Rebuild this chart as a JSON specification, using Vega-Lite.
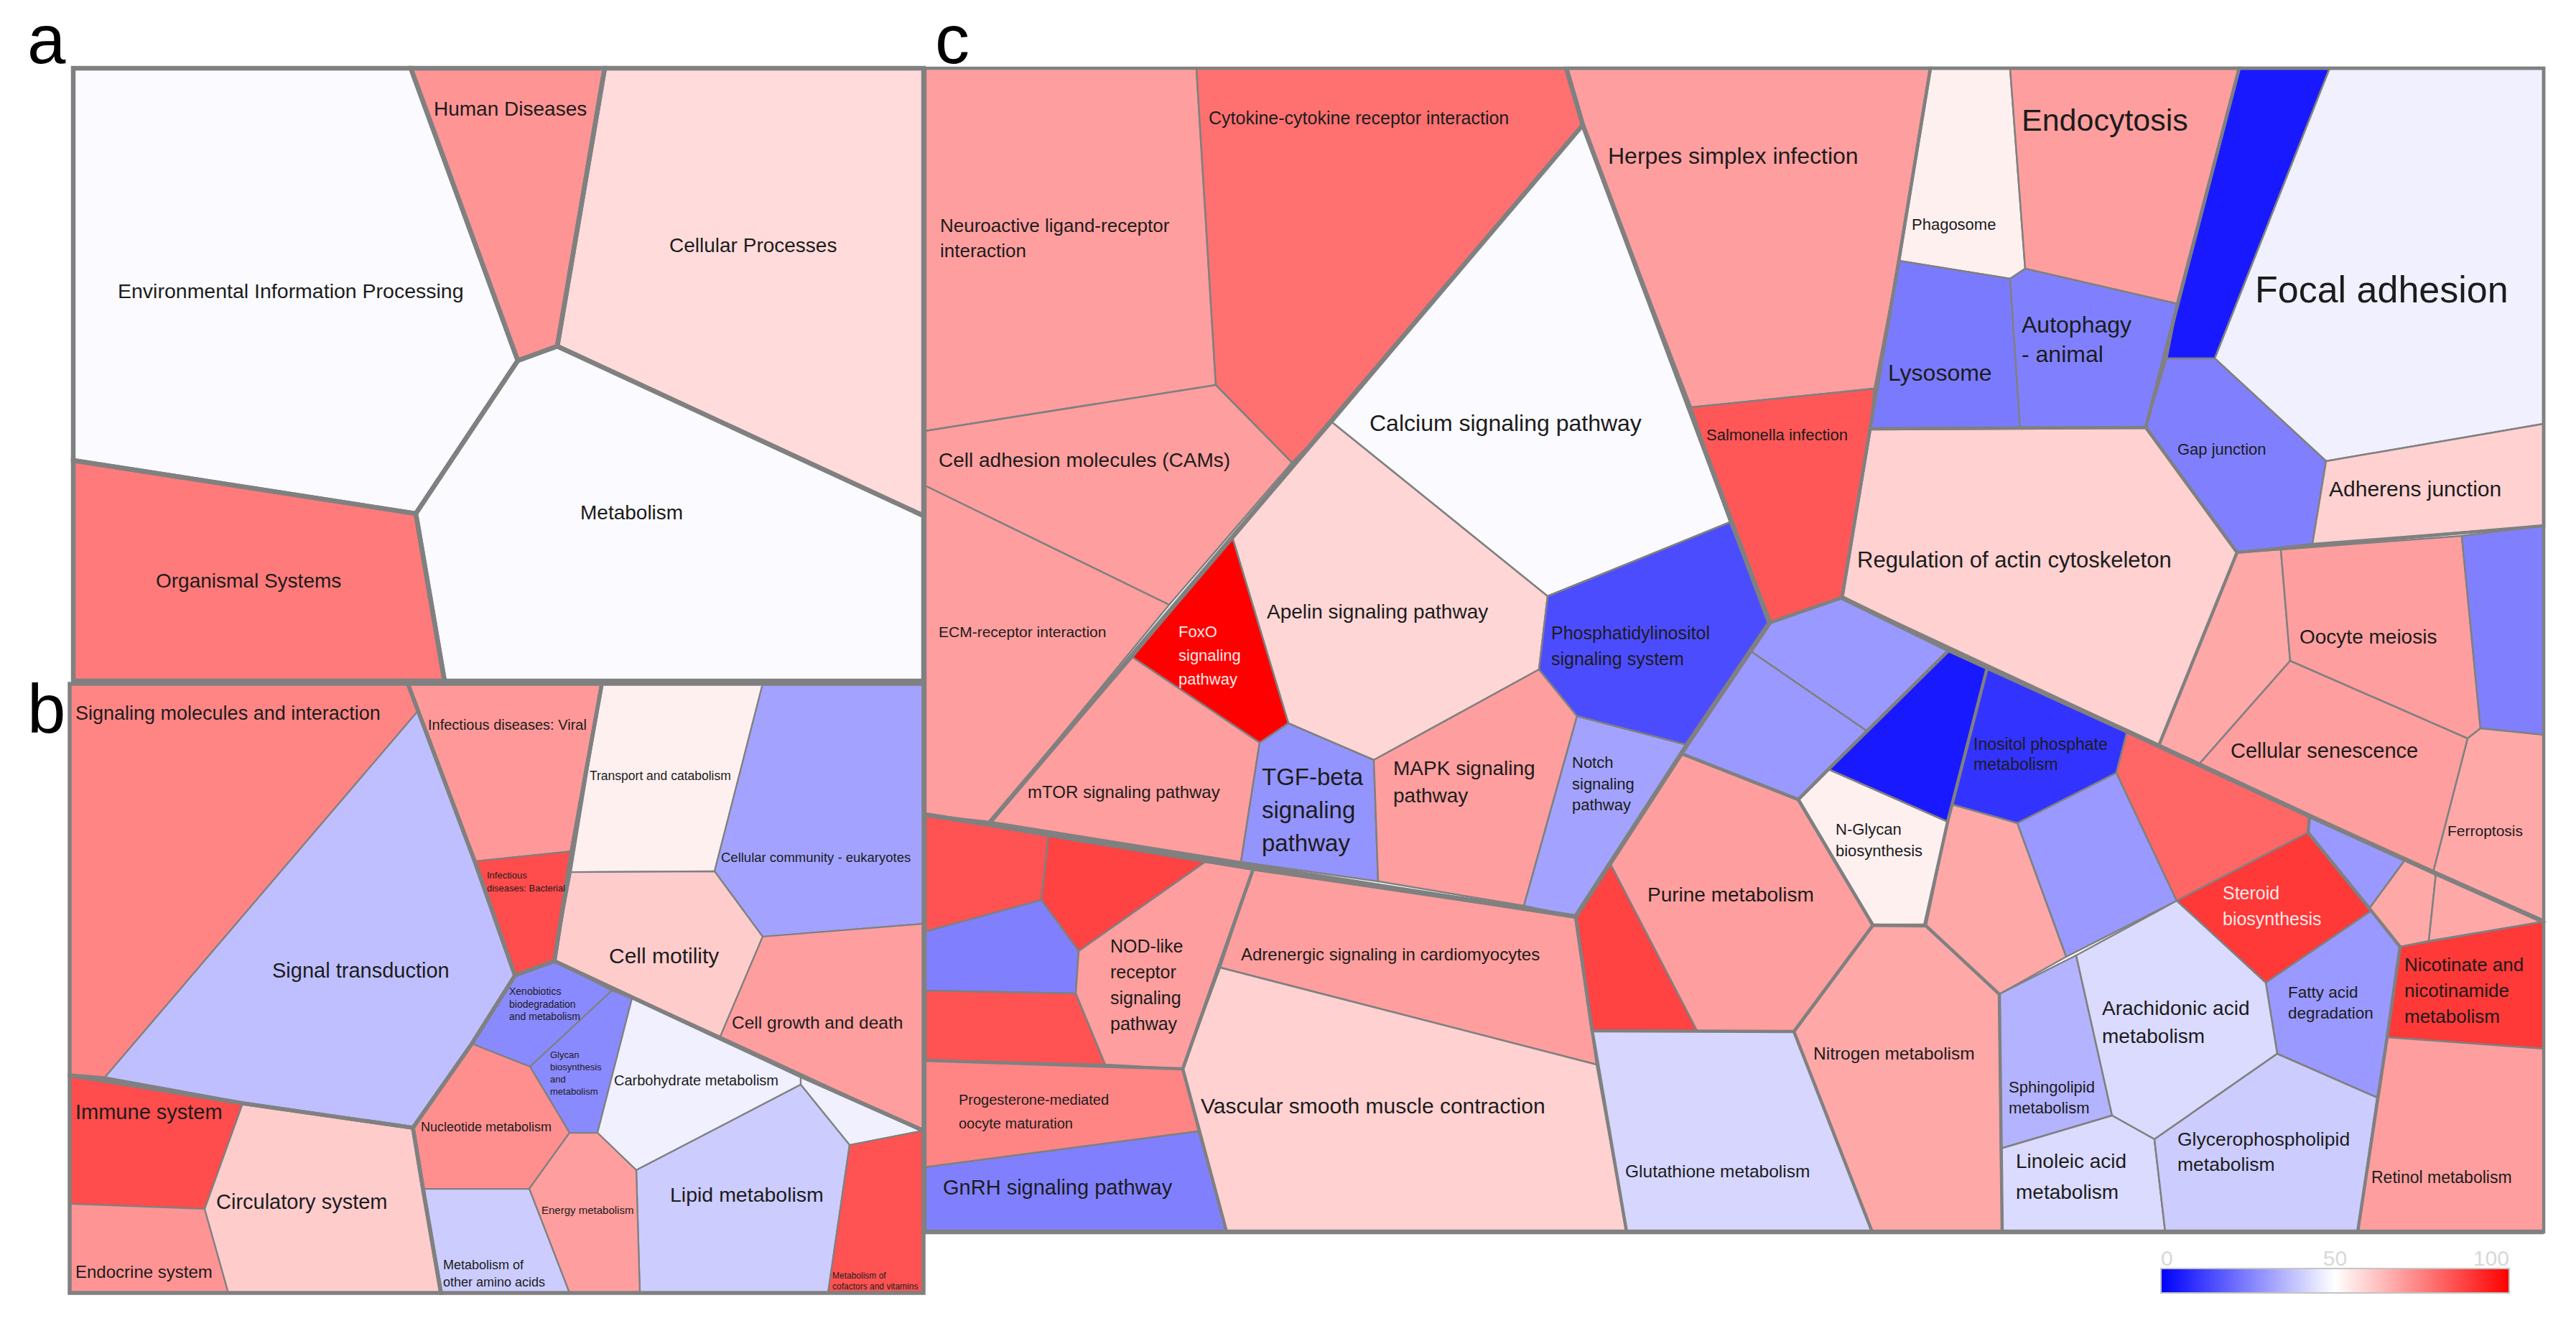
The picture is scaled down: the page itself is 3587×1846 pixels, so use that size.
{"$schema":"https://vega.github.io/schema/vega-lite/v6.json","width":3587,"height":1846,"padding":0,"autosize":"none","background":"white","view":{"stroke":null},"projection":{"type":"identity","scale":1,"translate":[0,0]},
"resolve":{"scale":{"strokeWidth":"independent"}},
"datasets":{
"cells":[
{"type":"Feature","name":"Environmental Information Processing","panel":"a","value":49,"geometry":{"type":"Polygon","coordinates":[[[102,95],[572,95],[721,502],[579,715],[102,641],[102,95]]]}},
{"type":"Feature","name":"Human Diseases","panel":"a","value":71,"geometry":{"type":"Polygon","coordinates":[[[572,95],[842,95],[776,482],[721,502],[572,95]]]}},
{"type":"Feature","name":"Cellular Processes","panel":"a","value":57,"geometry":{"type":"Polygon","coordinates":[[[842,95],[1286,95],[1286,718],[776,482],[842,95]]]}},
{"type":"Feature","name":"Metabolism","panel":"a","value":49,"geometry":{"type":"Polygon","coordinates":[[[721,502],[776,482],[1286,718],[1286,948],[619,948],[579,715],[721,502]]]}},
{"type":"Feature","name":"Organismal Systems","panel":"a","value":76,"geometry":{"type":"Polygon","coordinates":[[[102,641],[579,715],[619,948],[102,948],[102,641]]]}},
{"type":"Feature","name":"Signaling molecules and interaction","panel":"b","value":74,"geometry":{"type":"Polygon","coordinates":[[[97,952],[568,952],[581,991],[145,1501],[97,1497],[97,952]]]}},
{"type":"Feature","name":"Signal transduction","panel":"b","value":37.5,"geometry":{"type":"Polygon","coordinates":[[[581,991],[661,1199],[717,1358],[657,1453],[575,1570],[338,1536],[145,1501],[581,991]]]}},
{"type":"Feature","name":"Infectious diseases: Viral","panel":"b","value":70,"geometry":{"type":"Polygon","coordinates":[[[568,952],[838,952],[796,1185],[661,1199],[568,952]]]}},
{"type":"Feature","name":"Infectious diseases: Bacterial","panel":"b","value":85,"geometry":{"type":"Polygon","coordinates":[[[661,1199],[796,1185],[772,1338],[717,1358],[661,1199]]]}},
{"type":"Feature","name":"Transport and catabolism","panel":"b","value":53,"geometry":{"type":"Polygon","coordinates":[[[838,952],[1062,952],[995,1213],[795,1214],[838,952]]]}},
{"type":"Feature","name":"Cellular community - eukaryotes","panel":"b","value":32,"geometry":{"type":"Polygon","coordinates":[[[1062,952],[1286,952],[1286,1286],[1062,1304],[995,1213],[1062,952]]]}},
{"type":"Feature","name":"Cell motility","panel":"b","value":60,"geometry":{"type":"Polygon","coordinates":[[[795,1214],[995,1213],[1062,1304],[1003,1443],[772,1338],[795,1214]]]}},
{"type":"Feature","name":"Cell growth and death","panel":"b","value":69,"geometry":{"type":"Polygon","coordinates":[[[1062,1304],[1286,1286],[1286,1574],[1003,1443],[1062,1304]]]}},
{"type":"Feature","name":"Xenobiotics biodegradation and metabolism","panel":"b","value":27,"geometry":{"type":"Polygon","coordinates":[[[717,1358],[772,1338],[852,1379],[738,1485],[657,1453],[717,1358]]]}},
{"type":"Feature","name":"Glycan biosynthesis and metabolism","panel":"b","value":27,"geometry":{"type":"Polygon","coordinates":[[[852,1379],[880,1390],[832,1577],[793,1577],[738,1485],[852,1379]]]}},
{"type":"Feature","name":"Carbohydrate metabolism","panel":"b","value":47,"geometry":{"type":"Polygon","coordinates":[[[880,1390],[1115,1498],[1115,1510],[886,1629],[832,1577],[880,1390]]]}},
{"type":"Feature","name":"Unlabelled metabolism b","panel":"b","value":47,"geometry":{"type":"Polygon","coordinates":[[[1115,1498],[1286,1574],[1183,1594],[1115,1510],[1115,1498]]]}},
{"type":"Feature","name":"Lipid metabolism","panel":"b","value":40,"geometry":{"type":"Polygon","coordinates":[[[1115,1510],[1183,1594],[1153,1800],[891,1800],[886,1629],[1115,1510]]]}},
{"type":"Feature","name":"Metabolism of cofactors and vitamins","panel":"b","value":84,"geometry":{"type":"Polygon","coordinates":[[[1183,1594],[1286,1574],[1286,1800],[1153,1800],[1183,1594]]]}},
{"type":"Feature","name":"Nucleotide metabolism","panel":"b","value":72,"geometry":{"type":"Polygon","coordinates":[[[657,1453],[738,1485],[793,1577],[737,1655],[589,1655],[575,1570],[657,1453]]]}},
{"type":"Feature","name":"Energy metabolism","panel":"b","value":69,"geometry":{"type":"Polygon","coordinates":[[[793,1577],[832,1577],[886,1629],[891,1800],[793,1800],[737,1655],[793,1577]]]}},
{"type":"Feature","name":"Metabolism of other amino acids","panel":"b","value":40,"geometry":{"type":"Polygon","coordinates":[[[589,1655],[737,1655],[793,1800],[614,1800],[589,1655]]]}},
{"type":"Feature","name":"Immune system","panel":"b","value":85,"geometry":{"type":"Polygon","coordinates":[[[97,1497],[338,1536],[285,1683],[97,1676],[97,1497]]]}},
{"type":"Feature","name":"Endocrine system","panel":"b","value":71,"geometry":{"type":"Polygon","coordinates":[[[97,1676],[285,1683],[318,1800],[97,1800],[97,1676]]]}},
{"type":"Feature","name":"Circulatory system","panel":"b","value":60,"geometry":{"type":"Polygon","coordinates":[[[338,1536],[575,1570],[589,1655],[614,1800],[318,1800],[285,1683],[338,1536]]]}},
{"type":"Feature","name":"Neuroactive ligand-receptor interaction","panel":"c","value":69,"geometry":{"type":"Polygon","coordinates":[[[1288,95],[1666,95],[1693,536],[1288,600],[1288,95]]]}},
{"type":"Feature","name":"Cytokine-cytokine receptor interaction","panel":"c","value":78,"geometry":{"type":"Polygon","coordinates":[[[1666,95],[2181,95],[2204,174],[1855,588],[1799,644],[1693,536],[1666,95]]]}},
{"type":"Feature","name":"Cell adhesion molecules (CAMs)","panel":"c","value":69,"geometry":{"type":"Polygon","coordinates":[[[1288,600],[1693,536],[1799,644],[1628,842],[1288,676],[1288,600]]]}},
{"type":"Feature","name":"ECM-receptor interaction","panel":"c","value":69,"geometry":{"type":"Polygon","coordinates":[[[1288,676],[1628,842],[1379,1144],[1288,1134],[1288,676]]]}},
{"type":"Feature","name":"Calcium signaling pathway","panel":"c","value":49,"geometry":{"type":"Polygon","coordinates":[[[2204,174],[2409,727],[2155,830],[1855,588],[2204,174]]]}},
{"type":"Feature","name":"Apelin signaling pathway","panel":"c","value":58,"geometry":{"type":"Polygon","coordinates":[[[1855,588],[2155,830],[2143,932],[1913,1058],[1794,1007],[1716,748],[1855,588]]]}},
{"type":"Feature","name":"FoxO signaling pathway","panel":"c","value":100,"geometry":{"type":"Polygon","coordinates":[[[1716,748],[1794,1007],[1754,1034],[1577,915],[1716,748]]]}},
{"type":"Feature","name":"mTOR signaling pathway","panel":"c","value":69,"geometry":{"type":"Polygon","coordinates":[[[1577,915],[1754,1034],[1728,1200],[1379,1144],[1577,915]]]}},
{"type":"Feature","name":"TGF-beta signaling pathway","panel":"c","value":29,"geometry":{"type":"Polygon","coordinates":[[[1754,1034],[1794,1007],[1913,1058],[1919,1227],[1728,1200],[1754,1034]]]}},
{"type":"Feature","name":"MAPK signaling pathway","panel":"c","value":69,"geometry":{"type":"Polygon","coordinates":[[[1913,1058],[2143,932],[2196,997],[2122,1261],[1919,1227],[1913,1058]]]}},
{"type":"Feature","name":"Notch signaling pathway","panel":"c","value":32,"geometry":{"type":"Polygon","coordinates":[[[2196,997],[2349,1037],[2194,1276],[2122,1261],[2196,997]]]}},
{"type":"Feature","name":"Phosphatidylinositol signaling system","panel":"c","value":15,"geometry":{"type":"Polygon","coordinates":[[[2155,830],[2409,727],[2464,867],[2349,1037],[2196,997],[2143,932],[2155,830]]]}},
{"type":"Feature","name":"Herpes simplex infection","panel":"c","value":69,"geometry":{"type":"Polygon","coordinates":[[[2181,95],[2688,95],[2644,363],[2610,541],[2355,567],[2204,174],[2181,95]]]}},
{"type":"Feature","name":"Salmonella infection","panel":"c","value":83,"geometry":{"type":"Polygon","coordinates":[[[2355,567],[2610,541],[2604,597],[2565,832],[2467,867],[2409,727],[2355,567]]]}},
{"type":"Feature","name":"Phagosome","panel":"c","value":53,"geometry":{"type":"Polygon","coordinates":[[[2688,95],[2799,95],[2820,374],[2799,388],[2644,363],[2688,95]]]}},
{"type":"Feature","name":"Endocytosis","panel":"c","value":69,"geometry":{"type":"Polygon","coordinates":[[[2799,95],[3118,95],[3032,423],[2820,374],[2799,95]]]}},
{"type":"Feature","name":"Unlabelled cellular c1","panel":"c","value":5,"geometry":{"type":"Polygon","coordinates":[[[3118,95],[3244,95],[3084,499],[3017,499],[3032,423],[3118,95]]]}},
{"type":"Feature","name":"Focal adhesion","panel":"c","value":47,"geometry":{"type":"Polygon","coordinates":[[[3244,95],[3542,95],[3542,590],[3239,642],[3084,499],[3244,95]]]}},
{"type":"Feature","name":"Lysosome","panel":"c","value":24,"geometry":{"type":"Polygon","coordinates":[[[2644,363],[2799,388],[2813,595],[2604,597],[2644,363]]]}},
{"type":"Feature","name":"Autophagy - animal","panel":"c","value":25,"geometry":{"type":"Polygon","coordinates":[[[2799,388],[2820,374],[3032,423],[3017,499],[2988,595],[2813,595],[2799,388]]]}},
{"type":"Feature","name":"Gap junction","panel":"c","value":25,"geometry":{"type":"Polygon","coordinates":[[[3017,499],[3084,499],[3239,642],[3220,757],[3115,769],[2988,595],[3017,499]]]}},
{"type":"Feature","name":"Adherens junction","panel":"c","value":59,"geometry":{"type":"Polygon","coordinates":[[[3239,642],[3542,590],[3542,732],[3220,757],[3239,642]]]}},
{"type":"Feature","name":"Regulation of actin cytoskeleton","panel":"c","value":59,"geometry":{"type":"Polygon","coordinates":[[[2604,597],[2988,595],[3115,769],[3006,1038],[2565,832],[2604,597]]]}},
{"type":"Feature","name":"Unlabelled cellular c2","panel":"c","value":67,"geometry":{"type":"Polygon","coordinates":[[[3115,769],[3176,765],[3189,920],[3062,1064],[3006,1038],[3115,769]]]}},
{"type":"Feature","name":"Oocyte meiosis","panel":"c","value":69,"geometry":{"type":"Polygon","coordinates":[[[3176,765],[3428,746],[3454,1014],[3436,1028],[3189,920],[3176,765]]]}},
{"type":"Feature","name":"Unlabelled cellular c3","panel":"c","value":25,"geometry":{"type":"Polygon","coordinates":[[[3428,746],[3542,732],[3542,1023],[3454,1014],[3428,746]]]}},
{"type":"Feature","name":"Ferroptosis","panel":"c","value":67,"geometry":{"type":"Polygon","coordinates":[[[3454,1014],[3542,1023],[3542,1283],[3388,1214],[3436,1028],[3454,1014]]]}},
{"type":"Feature","name":"Cellular senescence","panel":"c","value":69,"geometry":{"type":"Polygon","coordinates":[[[3062,1064],[3189,920],[3436,1028],[3388,1214],[3062,1064]]]}},
{"type":"Feature","name":"Unlabelled metabolism c1","panel":"c","value":30,"geometry":{"type":"Polygon","coordinates":[[[2464,867],[2565,832],[2714,905],[2600,1018],[2437,906],[2464,867]]]}},
{"type":"Feature","name":"Unlabelled metabolism c2","panel":"c","value":30,"geometry":{"type":"Polygon","coordinates":[[[2437,906],[2600,1018],[2504,1113],[2341,1049],[2437,906]]]}},
{"type":"Feature","name":"Unlabelled metabolism c3","panel":"c","value":5,"geometry":{"type":"Polygon","coordinates":[[[2714,905],[2767,930],[2712,1144],[2546,1071],[2714,905]]]}},
{"type":"Feature","name":"N-Glycan biosynthesis","panel":"c","value":53,"geometry":{"type":"Polygon","coordinates":[[[2546,1071],[2712,1144],[2680,1288],[2608,1288],[2504,1113],[2546,1071]]]}},
{"type":"Feature","name":"Inositol phosphate metabolism","panel":"c","value":10,"geometry":{"type":"Polygon","coordinates":[[[2767,930],[2962,1018],[2947,1076],[2809,1146],[2718,1120],[2767,930]]]}},
{"type":"Feature","name":"Unlabelled metabolism c4","panel":"c","value":30,"geometry":{"type":"Polygon","coordinates":[[[2947,1076],[3031,1254],[2877,1332],[2809,1146],[2947,1076]]]}},
{"type":"Feature","name":"Unlabelled metabolism c5","panel":"c","value":80,"geometry":{"type":"Polygon","coordinates":[[[2962,1018],[3216,1136],[3214,1159],[3031,1254],[2947,1076],[2962,1018]]]}},
{"type":"Feature","name":"Steroid biosynthesis","panel":"c","value":89,"geometry":{"type":"Polygon","coordinates":[[[3214,1159],[3302,1268],[3155,1368],[3031,1254],[3214,1159]]]}},
{"type":"Feature","name":"Unlabelled metabolism c6","panel":"c","value":30,"geometry":{"type":"Polygon","coordinates":[[[3216,1136],[3349,1197],[3299,1265],[3214,1159],[3216,1136]]]}},
{"type":"Feature","name":"Unlabelled metabolism c7","panel":"c","value":67,"geometry":{"type":"Polygon","coordinates":[[[3349,1197],[3392,1216],[3382,1310],[3342,1318],[3299,1265],[3349,1197]]]}},
{"type":"Feature","name":"Unlabelled metabolism c8","panel":"c","value":67,"geometry":{"type":"Polygon","coordinates":[[[3392,1216],[3542,1283],[3382,1310],[3392,1216]]]}},
{"type":"Feature","name":"Nicotinate and nicotinamide metabolism","panel":"c","value":89,"geometry":{"type":"Polygon","coordinates":[[[3342,1318],[3542,1283],[3542,1460],[3324,1444],[3342,1318]]]}},
{"type":"Feature","name":"Retinol metabolism","panel":"c","value":69,"geometry":{"type":"Polygon","coordinates":[[[3324,1444],[3542,1460],[3542,1715],[3283,1715],[3324,1444]]]}},
{"type":"Feature","name":"Fatty acid degradation","panel":"c","value":30,"geometry":{"type":"Polygon","coordinates":[[[3302,1268],[3342,1318],[3324,1444],[3310,1528],[3171,1467],[3155,1368],[3302,1268]]]}},
{"type":"Feature","name":"Unlabelled metabolism c9","panel":"c","value":67,"geometry":{"type":"Polygon","coordinates":[[[2718,1120],[2809,1146],[2877,1332],[2784,1384],[2682,1289],[2712,1144],[2718,1120]]]}},
{"type":"Feature","name":"Purine metabolism","panel":"c","value":69,"geometry":{"type":"Polygon","coordinates":[[[2242,1202],[2341,1049],[2504,1113],[2608,1288],[2498,1436],[2363,1435],[2242,1202]]]}},
{"type":"Feature","name":"Unlabelled metabolism c10","panel":"c","value":87,"geometry":{"type":"Polygon","coordinates":[[[2242,1202],[2363,1435],[2217,1435],[2194,1276],[2242,1202]]]}},
{"type":"Feature","name":"Nitrogen metabolism","panel":"c","value":67,"geometry":{"type":"Polygon","coordinates":[[[2608,1288],[2682,1289],[2784,1384],[2788,1715],[2607,1715],[2498,1436],[2608,1288]]]}},
{"type":"Feature","name":"Sphingolipid metabolism","panel":"c","value":35,"geometry":{"type":"Polygon","coordinates":[[[2784,1384],[2891,1330],[2941,1553],[2786,1599],[2784,1384]]]}},
{"type":"Feature","name":"Arachidonic acid metabolism","panel":"c","value":43,"geometry":{"type":"Polygon","coordinates":[[[2891,1330],[3031,1254],[3155,1368],[3171,1467],[3000,1586],[2941,1553],[2891,1330]]]}},
{"type":"Feature","name":"Linoleic acid metabolism","panel":"c","value":43,"geometry":{"type":"Polygon","coordinates":[[[2786,1599],[2941,1553],[3000,1586],[3015,1715],[2788,1715],[2786,1599]]]}},
{"type":"Feature","name":"Glycerophospholipid metabolism","panel":"c","value":40,"geometry":{"type":"Polygon","coordinates":[[[3000,1586],[3171,1467],[3310,1528],[3283,1715],[3015,1715],[3000,1586]]]}},
{"type":"Feature","name":"Glutathione metabolism","panel":"c","value":42,"geometry":{"type":"Polygon","coordinates":[[[2217,1435],[2498,1436],[2607,1715],[2265,1715],[2217,1435]]]}},
{"type":"Feature","name":"Unlabelled signaling c1","panel":"c","value":84,"geometry":{"type":"Polygon","coordinates":[[[1288,1134],[1460,1164],[1450,1253],[1288,1297],[1288,1134]]]}},
{"type":"Feature","name":"Unlabelled signaling c2","panel":"c","value":87,"geometry":{"type":"Polygon","coordinates":[[[1460,1164],[1678,1200],[1502,1324],[1450,1253],[1460,1164]]]}},
{"type":"Feature","name":"Unlabelled signaling c3","panel":"c","value":25,"geometry":{"type":"Polygon","coordinates":[[[1288,1297],[1450,1253],[1502,1324],[1498,1383],[1288,1379],[1288,1297]]]}},
{"type":"Feature","name":"Unlabelled signaling c4","panel":"c","value":84,"geometry":{"type":"Polygon","coordinates":[[[1288,1379],[1498,1383],[1539,1482],[1288,1476],[1288,1379]]]}},
{"type":"Feature","name":"NOD-like receptor signaling pathway","panel":"c","value":69,"geometry":{"type":"Polygon","coordinates":[[[1678,1200],[1745,1210],[1647,1488],[1539,1482],[1498,1383],[1502,1324],[1678,1200]]]}},
{"type":"Feature","name":"Progesterone-mediated oocyte maturation","panel":"c","value":74,"geometry":{"type":"Polygon","coordinates":[[[1288,1476],[1647,1488],[1669,1575],[1288,1625],[1288,1476]]]}},
{"type":"Feature","name":"GnRH signaling pathway","panel":"c","value":25,"geometry":{"type":"Polygon","coordinates":[[[1288,1625],[1669,1575],[1708,1715],[1288,1715],[1288,1625]]]}},
{"type":"Feature","name":"Adrenergic signaling in cardiomyocytes","panel":"c","value":69,"geometry":{"type":"Polygon","coordinates":[[[1745,1210],[2194,1276],[2223,1482],[1699,1347],[1745,1210]]]}},
{"type":"Feature","name":"Vascular smooth muscle contraction","panel":"c","value":59,"geometry":{"type":"Polygon","coordinates":[[[1699,1347],[2223,1482],[2265,1715],[1708,1715],[1647,1488],[1699,1347]]]}}
],
"outlines":[
{"type":"Feature","level":"major","geometry":{"type":"Polygon","coordinates":[[[102,95],[572,95],[721,502],[579,715],[102,641],[102,95]]]}},
{"type":"Feature","level":"major","geometry":{"type":"Polygon","coordinates":[[[572,95],[842,95],[776,482],[721,502],[572,95]]]}},
{"type":"Feature","level":"major","geometry":{"type":"Polygon","coordinates":[[[842,95],[1286,95],[1286,718],[776,482],[842,95]]]}},
{"type":"Feature","level":"major","geometry":{"type":"Polygon","coordinates":[[[721,502],[776,482],[1286,718],[1286,948],[619,948],[579,715],[721,502]]]}},
{"type":"Feature","level":"major","geometry":{"type":"Polygon","coordinates":[[[102,641],[579,715],[619,948],[102,948],[102,641]]]}},
{"type":"Feature","level":"mid","geometry":{"type":"Polygon","coordinates":[[[97,952],[568,952],[661,1199],[717,1358],[657,1453],[575,1570],[338,1536],[145,1501],[97,1497],[97,952]]]}},
{"type":"Feature","level":"mid","geometry":{"type":"Polygon","coordinates":[[[568,952],[838,952],[796,1185],[772,1338],[717,1358],[661,1199],[568,952]]]}},
{"type":"Feature","level":"mid","geometry":{"type":"Polygon","coordinates":[[[838,952],[1286,952],[1286,1574],[1115,1498],[772,1338],[796,1185],[838,952]]]}},
{"type":"Feature","level":"mid","geometry":{"type":"Polygon","coordinates":[[[717,1358],[772,1338],[1115,1498],[1286,1574],[1286,1800],[614,1800],[589,1655],[575,1570],[657,1453],[717,1358]]]}},
{"type":"Feature","level":"mid","geometry":{"type":"Polygon","coordinates":[[[97,1497],[338,1536],[575,1570],[589,1655],[614,1800],[97,1800],[97,1497]]]}},
{"type":"Feature","level":"minor","geometry":{"type":"Polygon","coordinates":[[[1288,95],[3542,95],[3542,1715],[1288,1715],[1288,95]]]}},
{"type":"Feature","level":"minor","geometry":{"type":"Polygon","coordinates":[[[2181,95],[2688,95],[2644,363],[2604,597],[2565,832],[2464,867],[2204,174],[2181,95]]]}},
{"type":"Feature","level":"minor","geometry":{"type":"Polygon","coordinates":[[[2688,95],[3118,95],[3032,423],[2988,595],[2604,597],[2644,363],[2688,95]]]}},
{"type":"Feature","level":"minor","geometry":{"type":"Polygon","coordinates":[[[3118,95],[3542,95],[3542,732],[3115,769],[2988,595],[3118,95]]]}},
{"type":"Feature","level":"minor","geometry":{"type":"Polygon","coordinates":[[[2604,597],[2988,595],[3115,769],[3006,1038],[2565,832],[2604,597]]]}},
{"type":"Feature","level":"minor","geometry":{"type":"Polygon","coordinates":[[[2464,867],[2565,832],[2714,905],[2546,1071],[2504,1113],[2341,1049],[2464,867]]]}},
{"type":"Feature","level":"minor","geometry":{"type":"Polygon","coordinates":[[[2714,905],[2767,930],[2712,1144],[2680,1288],[2608,1288],[2504,1113],[2546,1071],[2714,905]]]}},
{"type":"Feature","level":"minor","geometry":{"type":"Polygon","coordinates":[[[2341,1049],[2504,1113],[2608,1288],[2498,1436],[2217,1435],[2194,1276],[2341,1049]]]}},
{"type":"Feature","level":"minor","geometry":{"type":"Polygon","coordinates":[[[2608,1288],[2682,1289],[2784,1384],[2788,1715],[2607,1715],[2498,1436],[2608,1288]]]}},
{"type":"Feature","level":"minor","geometry":{"type":"Polygon","coordinates":[[[1288,1134],[1745,1210],[1647,1488],[1288,1476],[1288,1134]]]}},
{"type":"Feature","level":"minor","geometry":{"type":"Polygon","coordinates":[[[1745,1210],[2194,1276],[2217,1435],[2265,1715],[1708,1715],[1647,1488],[1745,1210]]]}},
{"type":"Feature","level":"minor","geometry":{"type":"LineString","coordinates":[[3216,1136],[3214,1159],[3302,1268],[3342,1318],[3324,1444],[3283,1715]]}},
{"type":"Feature","level":"major","geometry":{"type":"LineString","coordinates":[[2181,95],[2204,174],[2464,867],[2349,1037],[2194,1276],[1288,1134]]}},
{"type":"Feature","level":"major","geometry":{"type":"LineString","coordinates":[[2204,174],[1379,1144]]}},
{"type":"Feature","level":"major","geometry":{"type":"LineString","coordinates":[[2565,832],[2714,905],[2962,1018],[3216,1136],[3392,1216],[3542,1283]]}},
{"type":"Feature","level":"major","geometry":{"type":"LineString","coordinates":[[1288,1715],[3542,1715]]}}
],
"labels":[
{"t":"Human Diseases","x":604,"y":153,"size":28,"ink":"dark"},
{"t":"Cellular Processes","x":932,"y":343,"size":28,"ink":"dark"},
{"t":"Environmental Information Processing","x":164,"y":406,"size":28.5,"ink":"dark"},
{"t":"Metabolism","x":808,"y":715,"size":28,"ink":"dark"},
{"t":"Organismal Systems","x":217,"y":810,"size":28,"ink":"dark"},
{"t":"Signaling molecules and interaction","x":105,"y":994,"size":27,"ink":"dark"},
{"t":"Infectious diseases: Viral","x":596,"y":1010,"size":20,"ink":"dark"},
{"t":"Transport and catabolism","x":821,"y":1081,"size":17.5,"ink":"dark"},
{"t":"Cellular community - eukaryotes","x":1004,"y":1194,"size":18.5,"ink":"dark"},
{"t":"Infectious","x":678,"y":1219,"size":13,"ink":"dark"},
{"t":"diseases: Bacterial","x":678,"y":1237,"size":13,"ink":"dark"},
{"t":"Cell motility","x":848,"y":1332,"size":30,"ink":"dark"},
{"t":"Cell growth and death","x":1019,"y":1425,"size":24.5,"ink":"dark"},
{"t":"Signal transduction","x":379,"y":1352,"size":29,"ink":"dark"},
{"t":"Xenobiotics","x":709,"y":1381,"size":14,"ink":"dark"},
{"t":"biodegradation","x":709,"y":1399,"size":14,"ink":"dark"},
{"t":"and metabolism","x":709,"y":1416,"size":14,"ink":"dark"},
{"t":"Glycan","x":766,"y":1469,"size":13,"ink":"dark"},
{"t":"biosynthesis","x":766,"y":1486,"size":13,"ink":"dark"},
{"t":"and","x":766,"y":1503,"size":13,"ink":"dark"},
{"t":"metabolism","x":766,"y":1520,"size":13,"ink":"dark"},
{"t":"Carbohydrate metabolism","x":855,"y":1505,"size":20,"ink":"dark"},
{"t":"Immune system","x":105,"y":1549,"size":29,"ink":"dark"},
{"t":"Nucleotide metabolism","x":586,"y":1570,"size":18,"ink":"dark"},
{"t":"Circulatory system","x":301,"y":1674,"size":29,"ink":"dark"},
{"t":"Lipid metabolism","x":933,"y":1664,"size":28.5,"ink":"dark"},
{"t":"Energy metabolism","x":754,"y":1685,"size":15,"ink":"dark"},
{"t":"Endocrine system","x":105,"y":1772,"size":24,"ink":"dark"},
{"t":"Metabolism of","x":617,"y":1762,"size":18,"ink":"dark"},
{"t":"other amino acids","x":617,"y":1786,"size":18,"ink":"dark"},
{"t":"Metabolism of","x":1159,"y":1776,"size":12,"ink":"dark"},
{"t":"cofactors and vitamins","x":1159,"y":1791,"size":12,"ink":"dark"},
{"t":"Cytokine-cytokine receptor interaction","x":1683,"y":165,"size":25,"ink":"dark"},
{"t":"Neuroactive ligand-receptor","x":1309,"y":315,"size":26,"ink":"dark"},
{"t":"interaction","x":1309,"y":350,"size":26,"ink":"dark"},
{"t":"Herpes simplex infection","x":2239,"y":218,"size":32,"ink":"dark"},
{"t":"Cell adhesion molecules (CAMs)","x":1307,"y":642,"size":28,"ink":"dark"},
{"t":"Calcium signaling pathway","x":1907,"y":590,"size":32,"ink":"dark"},
{"t":"ECM-receptor interaction","x":1307,"y":881,"size":21,"ink":"dark"},
{"t":"FoxO","x":1641,"y":880,"size":22,"ink":"light"},
{"t":"signaling","x":1641,"y":913,"size":22,"ink":"light"},
{"t":"pathway","x":1641,"y":946,"size":22,"ink":"light"},
{"t":"Apelin signaling pathway","x":1764,"y":853,"size":28,"ink":"dark"},
{"t":"Phosphatidylinositol","x":2160,"y":882,"size":25,"ink":"dark"},
{"t":"signaling system","x":2160,"y":918,"size":25,"ink":"dark"},
{"t":"mTOR signaling pathway","x":1431,"y":1104,"size":24,"ink":"dark"},
{"t":"TGF-beta","x":1757,"y":1083,"size":33,"ink":"dark"},
{"t":"signaling","x":1757,"y":1129,"size":33,"ink":"dark"},
{"t":"pathway","x":1757,"y":1175,"size":33,"ink":"dark"},
{"t":"MAPK signaling","x":1940,"y":1071,"size":28,"ink":"dark"},
{"t":"pathway","x":1940,"y":1109,"size":28,"ink":"dark"},
{"t":"Notch","x":2189,"y":1062,"size":22,"ink":"dark"},
{"t":"signaling","x":2189,"y":1092,"size":22,"ink":"dark"},
{"t":"pathway","x":2189,"y":1121,"size":22,"ink":"dark"},
{"t":"Endocytosis","x":2815,"y":169,"size":43,"ink":"dark"},
{"t":"Phagosome","x":2662,"y":313,"size":22,"ink":"dark"},
{"t":"Focal adhesion","x":3140,"y":405,"size":52,"ink":"dark"},
{"t":"Autophagy","x":2815,"y":453,"size":32,"ink":"dark"},
{"t":"- animal","x":2815,"y":494,"size":32,"ink":"dark"},
{"t":"Lysosome","x":2629,"y":520,"size":32,"ink":"dark"},
{"t":"Salmonella infection","x":2376,"y":606,"size":22,"ink":"dark"},
{"t":"Gap junction","x":3032,"y":626,"size":22,"ink":"dark"},
{"t":"Adherens junction","x":3243,"y":682,"size":30,"ink":"dark"},
{"t":"Regulation of actin cytoskeleton","x":2586,"y":781,"size":31,"ink":"dark"},
{"t":"Oocyte meiosis","x":3202,"y":888,"size":28,"ink":"dark"},
{"t":"Cellular senescence","x":3106,"y":1046,"size":29,"ink":"dark"},
{"t":"Inositol phosphate","x":2748,"y":1037,"size":23,"ink":"dark"},
{"t":"metabolism","x":2748,"y":1065,"size":23,"ink":"dark"},
{"t":"Ferroptosis","x":3408,"y":1158,"size":21,"ink":"dark"},
{"t":"N-Glycan","x":2556,"y":1155,"size":22,"ink":"dark"},
{"t":"biosynthesis","x":2556,"y":1185,"size":22,"ink":"dark"},
{"t":"Purine metabolism","x":2294,"y":1247,"size":28,"ink":"dark"},
{"t":"Steroid","x":3095,"y":1244,"size":25,"ink":"light"},
{"t":"biosynthesis","x":3095,"y":1280,"size":25,"ink":"light"},
{"t":"Nicotinate and","x":3348,"y":1344,"size":26,"ink":"dark"},
{"t":"nicotinamide","x":3348,"y":1380,"size":26,"ink":"dark"},
{"t":"metabolism","x":3348,"y":1416,"size":26,"ink":"dark"},
{"t":"Arachidonic acid","x":2927,"y":1405,"size":28,"ink":"dark"},
{"t":"metabolism","x":2927,"y":1444,"size":28,"ink":"dark"},
{"t":"Fatty acid","x":3186,"y":1382,"size":22.5,"ink":"dark"},
{"t":"degradation","x":3186,"y":1411,"size":22.5,"ink":"dark"},
{"t":"Nitrogen metabolism","x":2525,"y":1468,"size":24.5,"ink":"dark"},
{"t":"Sphingolipid","x":2797,"y":1514,"size":22,"ink":"dark"},
{"t":"metabolism","x":2797,"y":1543,"size":22,"ink":"dark"},
{"t":"Glycerophospholipid","x":3032,"y":1587,"size":26.5,"ink":"dark"},
{"t":"metabolism","x":3032,"y":1622,"size":26.5,"ink":"dark"},
{"t":"Linoleic acid","x":2807,"y":1618,"size":28,"ink":"dark"},
{"t":"metabolism","x":2807,"y":1661,"size":28,"ink":"dark"},
{"t":"Retinol metabolism","x":3302,"y":1640,"size":23,"ink":"dark"},
{"t":"Glutathione metabolism","x":2263,"y":1632,"size":24.5,"ink":"dark"},
{"t":"NOD-like","x":1546,"y":1318,"size":25,"ink":"dark"},
{"t":"receptor","x":1546,"y":1354,"size":25,"ink":"dark"},
{"t":"signaling","x":1546,"y":1390,"size":25,"ink":"dark"},
{"t":"pathway","x":1546,"y":1426,"size":25,"ink":"dark"},
{"t":"Adrenergic signaling in cardiomyocytes","x":1728,"y":1330,"size":24,"ink":"dark"},
{"t":"Vascular smooth muscle contraction","x":1672,"y":1541,"size":30,"ink":"dark"},
{"t":"Progesterone-mediated","x":1335,"y":1532,"size":20,"ink":"dark"},
{"t":"oocyte maturation","x":1335,"y":1565,"size":20,"ink":"dark"},
{"t":"GnRH signaling pathway","x":1313,"y":1654,"size":29,"ink":"dark"}
],
"letters":[{"t":"a","x":38,"y":88},{"t":"b","x":38,"y":1020},{"t":"c","x":1302,"y":88}]
},
"layer":[
{"data":{"name":"cells"},"mark":{"type":"geoshape","stroke":"#808080"},"encoding":{
 "fill":{"field":"value","type":"quantitative","scale":{"domain":[0,50,100],"range":["#0000ff","#ffffff","#ff0000"],"interpolate":"rgb"},
  "legend":{"orient":"none","legendX":3009,"legendY":1766,"direction":"horizontal","title":null,"values":[0,50,100],"gradientLength":485,"gradientThickness":34,"gradientStrokeColor":"#c4c4c4","gradientStrokeWidth":2,"labelColor":"#d8d8d8","labelFontSize":30,"labelFont":"Liberation Sans","labelOffset":-62}},
 "strokeWidth":{"field":"panel","type":"nominal","scale":{"domain":["a","b","c"],"range":[2,2.5,0.6]},"legend":null}}},
{"data":{"name":"outlines"},"mark":{"type":"geoshape","filled":false,"stroke":"#808080"},"encoding":{
 "strokeWidth":{"field":"level","type":"nominal","scale":{"domain":["major","mid","minor"],"range":[6.5,4.5,3]},"legend":null}}},
{"data":{"name":"labels"},"mark":{"type":"text","align":"left","baseline":"middle","font":"Liberation Sans"},"encoding":{
 "longitude":{"field":"x","type":"quantitative"},"latitude":{"field":"y","type":"quantitative"},
 "text":{"field":"t","type":"nominal"},
 "size":{"field":"size","type":"quantitative","scale":null},
 "color":{"field":"ink","type":"nominal","scale":{"domain":["dark","light"],"range":["#1c1c1c","#ffe8e8"]},"legend":null}}},
{"data":{"name":"letters"},"mark":{"type":"text","align":"left","baseline":"alphabetic","font":"Liberation Sans","fontSize":96,"color":"#000000"},"encoding":{
 "longitude":{"field":"x","type":"quantitative"},"latitude":{"field":"y","type":"quantitative"},
 "text":{"field":"t","type":"nominal"}}}
]}
